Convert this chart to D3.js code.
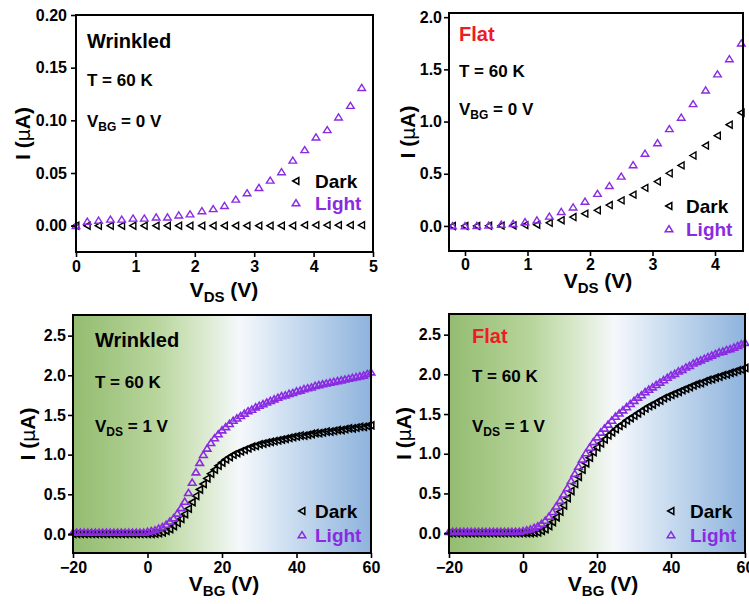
<!DOCTYPE html>
<html><head><meta charset="utf-8">
<script src="https://cdn.jsdelivr.net/npm/d3@7"></script>
<style>
html,body{margin:0;padding:0;background:#fff;}
svg{display:block;font-family:"Liberation Sans",Arial,sans-serif;font-weight:bold;}
</style></head>
<body>
<svg id="chart" width="749" height="604"></svg>
<script>
// ---------- DATA ----------
// Top-left: Wrinkled, T = 60 K, VBG = 0 V (I vs VDS)
const wrinkledVds = [0, 0.19, 0.38, 0.58, 0.77, 0.96, 1.15, 1.35, 1.54, 1.73, 1.92, 2.12, 2.31, 2.50, 2.69, 2.88, 3.08, 3.27, 3.46, 3.65, 3.85, 4.04, 4.23, 4.42, 4.62, 4.81];
const wrinkledVdsDark = [0, 0, 0, 0, 0, 0, 0, 0, 0, 0, 0, 0, 0, 0, 0, 0, 0, 0, 0, 0, 0.0005, 0.0005, 0.0005, 0.0005, 0.0005, 0.0005];
const wrinkledVdsLight = [0, 0.004, 0.005, 0.006, 0.006, 0.007, 0.007, 0.008, 0.008, 0.010, 0.011, 0.014, 0.016, 0.019, 0.025, 0.031, 0.036, 0.043, 0.051, 0.062, 0.072, 0.084, 0.091, 0.103, 0.114, 0.131];

// Top-right: Flat, T = 60 K, VBG = 0 V (I vs VDS)
const flatVds = [-0.2, 0, 0.19, 0.38, 0.58, 0.77, 0.96, 1.15, 1.35, 1.54, 1.73, 1.92, 2.12, 2.31, 2.50, 2.69, 2.88, 3.08, 3.27, 3.46, 3.65, 3.85, 4.04, 4.23, 4.42];
const flatVdsDark = [0, 0, 0, 0.002, 0.003, 0.005, 0.008, 0.012, 0.03, 0.055, 0.085, 0.118, 0.15, 0.2, 0.245, 0.3, 0.365, 0.425, 0.505, 0.58, 0.675, 0.77, 0.865, 0.97, 1.085];
const flatVdsLight = [0, 0, 0.003, 0.006, 0.015, 0.022, 0.038, 0.055, 0.092, 0.137, 0.18, 0.235, 0.31, 0.385, 0.475, 0.585, 0.695, 0.795, 0.93, 1.04, 1.17, 1.30, 1.455, 1.6, 1.75];

// Bottom: back-gate sweeps, VDS = 1 V
const vbg = [-20,-19,-18,-17,-16,-15,-14,-13,-12,-11,-10,-9,-8,-7,-6,-5,-4,-3,-2,-1,0,1,2,3,4,5,6,7,8,9,10,11,12,13,14,15,16,17,18,19,20,21,22,23,24,25,26,27,28,29,30,31,32,33,34,35,36,37,38,39,40,41,42,43,44,45,46,47,48,49,50,51,52,53,54,55,56,57,58,59,60];
const wrinkledVbgDark = [0,0,0,0,0,0,0,0,0,0,0,0,0,0,0,0,0,0,0,0,0,0,0.003,0.01,0.02,0.04,0.06,0.10,0.14,0.19,0.25,0.32,0.40,0.48,0.56,0.63,0.70,0.76,0.81,0.86,0.90,0.94,0.97,1.00,1.02,1.04,1.06,1.08,1.10,1.11,1.13,1.14,1.15,1.16,1.17,1.18,1.19,1.20,1.21,1.22,1.23,1.24,1.24,1.25,1.26,1.27,1.27,1.28,1.29,1.29,1.30,1.31,1.31,1.32,1.33,1.33,1.34,1.35,1.35,1.36,1.37];
const wrinkledVbgLight = [0.02,0.02,0.02,0.02,0.02,0.02,0.02,0.02,0.02,0.02,0.02,0.02,0.02,0.02,0.02,0.02,0.02,0.02,0.02,0.02,0.03,0.04,0.05,0.07,0.09,0.12,0.16,0.20,0.26,0.33,0.41,0.52,0.65,0.78,0.90,1.00,1.08,1.15,1.21,1.26,1.31,1.35,1.39,1.43,1.46,1.49,1.52,1.55,1.57,1.60,1.62,1.64,1.66,1.68,1.70,1.72,1.74,1.75,1.77,1.78,1.80,1.81,1.83,1.84,1.85,1.87,1.88,1.89,1.90,1.91,1.92,1.93,1.94,1.95,1.96,1.97,1.98,1.99,2.00,2.02,2.04];
const flatVbgDark = [0,0,0,0,0,0,0,0,0,0,0,0,0,0,0,0,0,0,0,0,0,0,0,0.003,0.01,0.03,0.05,0.09,0.14,0.20,0.27,0.35,0.44,0.53,0.62,0.71,0.80,0.88,0.95,1.02,1.08,1.13,1.18,1.23,1.27,1.31,1.35,1.38,1.42,1.45,1.48,1.51,1.54,1.57,1.60,1.62,1.65,1.67,1.70,1.72,1.74,1.76,1.78,1.80,1.82,1.84,1.86,1.88,1.89,1.91,1.93,1.94,1.96,1.97,1.99,2.00,2.02,2.03,2.05,2.06,2.08];
const flatVbgLight = [0.02,0.02,0.02,0.02,0.02,0.02,0.02,0.02,0.02,0.02,0.02,0.02,0.02,0.02,0.02,0.02,0.02,0.02,0.02,0.02,0.03,0.04,0.05,0.07,0.09,0.12,0.16,0.21,0.27,0.34,0.41,0.49,0.57,0.66,0.75,0.84,0.93,1.01,1.08,1.15,1.21,1.27,1.32,1.37,1.42,1.47,1.51,1.55,1.59,1.63,1.67,1.71,1.74,1.78,1.81,1.84,1.87,1.90,1.93,1.96,1.99,2.01,2.04,2.06,2.09,2.11,2.14,2.16,2.18,2.20,2.22,2.24,2.26,2.28,2.29,2.31,2.32,2.34,2.36,2.38,2.40];

// Tick values
const vdsTicksTL = [0, 1, 2, 3, 4, 5];
const iTicksTL = [0, 0.05, 0.10, 0.15, 0.20];
const vdsTicksTR = [0, 1, 2, 3, 4];
const iTicksTR = [0, 0.5, 1.0, 1.5, 2.0];
const vbgTicks = [-20, 0, 20, 40, 60];
const iTicksB = [0, 0.5, 1.0, 1.5, 2.0, 2.5];

// ---------- STYLE ----------
const PURPLE = "#8a2be2";
const RED = "#ee1c25";

const svg = d3.select("#chart");
const defs = svg.append("defs");
const grad = defs.append("linearGradient").attr("id", "bg").attr("x1", "0%").attr("x2", "100%").attr("y1", "0%").attr("y2", "0%");
[["0%", "#93bc70"], ["28%", "#b8d59c"], ["45%", "#ddebd2"], ["56%", "#f5f8fb"], ["70%", "#d2e2f2"], ["100%", "#8eb3dd"]]
  .forEach(([o, c]) => grad.append("stop").attr("offset", o).attr("stop-color", c));

const triUp = "M0,-3.3L3.8,2.8L-3.8,2.8Z";
const triLeft = "M-3.3,0L2.8,-3.5L2.8,3.5Z";

function panel(cfg) {
  const x = d3.scaleLinear().domain(cfg.xd).range([cfg.x0, cfg.x1]);
  const y = d3.scaleLinear().domain(cfg.yd).range([cfg.y1, cfg.y0]);
  const g = svg.append("g");
  if (cfg.bg) {
    g.append("rect").attr("x", cfg.x0).attr("y", cfg.y0).attr("width", cfg.x1 - cfg.x0).attr("height", cfg.y1 - cfg.y0).attr("fill", "url(#bg)");
  }
  // data
  const series = [
    {xs: cfg.xs, ys: cfg.dark, path: triLeft, color: "#000"},
    {xs: cfg.xs, ys: cfg.light, path: triUp, color: PURPLE}
  ];
  series.forEach(s => {
    g.append("g").selectAll("path").data(s.ys.map((v, i) => [s.xs[i], v])).join("path")
      .attr("d", s.path)
      .attr("transform", d => `translate(${x(d[0])},${y(d[1])})`)
      .attr("fill", "none").attr("stroke", s.color).attr("stroke-width", cfg.mw);
  });
  // frame
  g.append("rect").attr("x", cfg.x0).attr("y", cfg.y0).attr("width", cfg.x1 - cfg.x0).attr("height", cfg.y1 - cfg.y0)
    .attr("fill", "none").attr("stroke", "#000").attr("stroke-width", 2);
  // axes
  const ax = g.append("g").attr("transform", `translate(0,${cfg.y1})`)
    .call(d3.axisBottom(x).tickValues(cfg.xt).tickFormat(cfg.xf).tickSize(5).tickPadding(cfg.xpad));
  const ay = g.append("g").attr("transform", `translate(${cfg.x0},0)`)
    .call(d3.axisLeft(y).tickValues(cfg.yt).tickFormat(cfg.yf).tickSize(5).tickPadding(cfg.ypad));
  [ax, ay].forEach(a => {
    a.select(".domain").remove();
    a.selectAll("line").attr("stroke", "#000").attr("stroke-width", 1.6);
    a.selectAll("text").attr("fill", "#000").attr("font-size", cfg.tickFs).attr("font-weight", "bold")
      .attr("font-family", "Liberation Sans, Arial, sans-serif");
  });
  // axis titles
  const yt = g.append("text").attr("transform", `translate(${cfg.ytx},${(cfg.y0 + cfg.y1) / 2}) rotate(-90)`)
    .attr("text-anchor", "middle").attr("font-size", 21).attr("fill", "#000");
  yt.append("tspan").text("I (");
  yt.append("tspan").attr("font-family", "DejaVu Sans").attr("font-weight", "normal").attr("font-size", 19).text("\u03bc");
  yt.append("tspan").text("A)");
  const xt = g.append("text").attr("x", cfg.xtx).attr("y", cfg.xty).attr("text-anchor", "middle").attr("font-size", 21).attr("fill", "#000");
  xt.append("tspan").text("V");
  xt.append("tspan").attr("font-size", 15).attr("dy", 5).text(cfg.xsub);
  xt.append("tspan").attr("dy", -5).text(" (V)");
  // annotations
  g.append("text").attr("x", cfg.ax).attr("y", cfg.a1).attr("font-size", 20).attr("fill", cfg.titleColor).text(cfg.title);
  g.append("text").attr("x", cfg.ax).attr("y", cfg.a2).attr("font-size", 17).attr("fill", "#000").text("T = 60 K");
  const a3 = g.append("text").attr("x", cfg.ax).attr("y", cfg.a3).attr("font-size", 17).attr("fill", "#000");
  a3.append("tspan").text("V");
  a3.append("tspan").attr("font-size", 12).attr("dy", 4).text(cfg.asub);
  a3.append("tspan").attr("dy", -4).text(cfg.aval);
  // legend
  g.append("path").attr("d", triLeft).attr("transform", `translate(${cfg.lmx},${cfg.l1})`).attr("fill", "none").attr("stroke", "#000").attr("stroke-width", 1.5);
  g.append("path").attr("d", triUp).attr("transform", `translate(${cfg.lmx},${cfg.l2})`).attr("fill", "none").attr("stroke", PURPLE).attr("stroke-width", 1.5);
  g.append("text").attr("x", cfg.ltx).attr("y", cfg.l1 + 7).attr("font-size", 19).attr("fill", "#000").text("Dark");
  g.append("text").attr("x", cfg.ltx).attr("y", cfg.l2 + 7).attr("font-size", 19).attr("fill", PURPLE).text("Light");
}

panel({x0: 76, x1: 373, y0: 15, y1: 252, xd: [0, 5], yd: [-0.025, 0.2],
  xs: wrinkledVds, dark: wrinkledVdsDark, light: wrinkledVdsLight, mw: 1.4,
  xt: vdsTicksTL, xf: d3.format("d"), yt: iTicksTL, yf: d3.format(".2f"), xpad: 4, ypad: 4, tickFs: 16,
  ytx: 30, xtx: 224, xty: 297, xsub: "DS",
  title: "Wrinkled", titleColor: "#000", ax: 87, a1: 48, a2: 86, a3: 127, asub: "BG", aval: " = 0 V",
  lmx: 296, ltx: 315, l1: 181, l2: 203, bg: false});

panel({x0: 449, x1: 743, y0: 13, y1: 251, xd: [-0.256, 4.448], yd: [-0.24, 2.04],
  xs: flatVds, dark: flatVdsDark, light: flatVdsLight, mw: 1.4,
  xt: vdsTicksTR, xf: d3.format("d"), yt: iTicksTR, yf: d3.format(".1f"), xpad: 3, ypad: 2, tickFs: 16,
  ytx: 415, xtx: 598, xty: 288, xsub: "DS",
  title: "Flat", titleColor: RED, ax: 459, a1: 41, a2: 77, a3: 115, asub: "BG", aval: " = 0 V",
  lmx: 669, ltx: 686, l1: 206, l2: 229, bg: false});

panel({x0: 73, x1: 371, y0: 315, y1: 553, xd: [-20, 60], yd: [-0.24, 2.76],
  xs: vbg, dark: wrinkledVbgDark, light: wrinkledVbgLight, mw: 1.6,
  xt: vbgTicks, xf: d3.format("d"), yt: iTicksB, yf: d3.format(".1f"), xpad: 4, ypad: 2, tickFs: 16,
  ytx: 35, xtx: 224, xty: 591, xsub: "BG",
  title: "Wrinkled", titleColor: "#000", ax: 95, a1: 347, a2: 388, a3: 432, asub: "DS", aval: " = 1 V",
  lmx: 302, ltx: 315, l1: 511, l2: 535, bg: true});

panel({x0: 449, x1: 745, y0: 314, y1: 553, xd: [-20, 60], yd: [-0.25, 2.76],
  xs: vbg, dark: flatVbgDark, light: flatVbgLight, mw: 1.6,
  xt: vbgTicks, xf: d3.format("d"), yt: iTicksB, yf: d3.format(".1f"), xpad: 4, ypad: 3, tickFs: 16,
  ytx: 411, xtx: 603, xty: 591, xsub: "BG",
  title: "Flat", titleColor: RED, ax: 472, a1: 343, a2: 382, a3: 432, asub: "DS", aval: " = 1 V",
  lmx: 671, ltx: 690, l1: 511, l2: 535, bg: true});
</script>
</body></html>
